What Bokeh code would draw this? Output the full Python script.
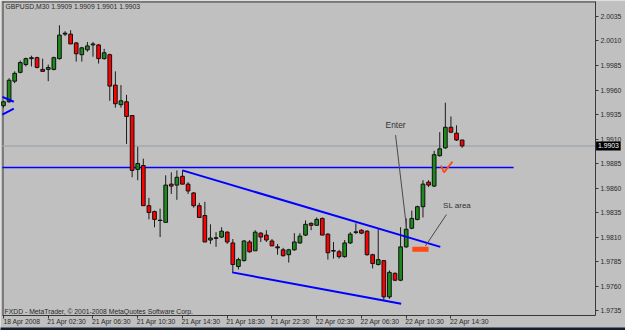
from bokeh.plotting import figure
from bokeh.models import (ColumnDataSource, FixedTicker, NumeralTickFormatter, Label,
                          Range1d, LinearAxis)
from bokeh.core.properties import value
from bokeh.embed import file_html
from bokeh.resources import INLINE

# ---------------- data ----------------
chart_title = "GBPUSD,M30  1.9909 1.9909 1.9901 1.9903"
copyright_text = "FXDD - MetaTrader, \u00a9 2001-2008 MetaQuotes Software Corp."

opens = [1.9944, 1.9948, 1.9969, 1.9978, 1.9986, 1.9992, 1.9993, 1.9981, 1.9981, 1.9981,
         1.9992, 2.0017, 2.0017, 2.0008, 1.9996, 2.0001, 2.0006, 2.0006, 1.9992, 1.9996,
         1.9965, 1.9945, 1.9948, 1.9934, 1.9879, 1.9883, 1.9842, 1.9836, 1.9827, 1.9825,
         1.9864, 1.9863, 1.9872, 1.9864, 1.9855, 1.9842, 1.9832, 1.9807, 1.9809, 1.9810,
         1.9815, 1.9804, 1.9780, 1.9786, 1.9805, 1.9796, 1.9814, 1.9812, 1.9806, 1.9800,
         1.9797, 1.9792, 1.9797, 1.9804, 1.9812, 1.9824, 1.9822, 1.9829, 1.9813, 1.9796,
         1.9795, 1.9790, 1.9804, 1.9815, 1.9817, 1.9816, 1.9792, 1.9782, 1.9786, 1.9749,
         1.9773, 1.9766, 1.9800, 1.9819, 1.9828, 1.9841, 1.9866, 1.9862, 1.9893, 1.9901,
         1.9922, 1.9916, 1.9909]
highs = [1.9949, 1.9972, 1.9979, 1.9990, 1.9993, 1.9995, 1.9994, 1.9992, 1.9986, 1.9994,
         2.0026, 2.0020, 2.0021, 2.0009, 2.0004, 2.0009, 2.0009, 2.0007, 2.0002, 1.9997,
         1.9979, 1.9965, 1.9955, 1.9934, 1.9902, 1.9890, 1.9850, 1.9837, 1.9839, 1.9873,
         1.9876, 1.9878, 1.9878, 1.9866, 1.9856, 1.9845, 1.9846, 1.9823, 1.9815, 1.9820,
         1.9816, 1.9808, 1.9789, 1.9807, 1.9807, 1.9817, 1.9815, 1.9817, 1.9808, 1.9803,
         1.9799, 1.9798, 1.9814, 1.9814, 1.9827, 1.9825, 1.9830, 1.9830, 1.9814, 1.9805,
         1.9797, 1.9807, 1.9815, 1.9824, 1.9818, 1.9817, 1.9793, 1.9818, 1.9786, 1.9776,
         1.9774, 1.9820, 1.9829, 1.9837, 1.9842, 1.9868, 1.9868, 1.9898, 1.9917, 1.9947,
         1.9933, 1.9924, 1.9909]
lows = [1.9942, 1.9947, 1.9967, 1.9977, 1.9984, 1.9984, 1.9982, 1.9979, 1.9969, 1.9980,
        1.9991, 2.0015, 2.0007, 1.9989, 1.9989, 1.9999, 1.9994, 1.9987, 1.9991, 1.9949,
        1.9942, 1.9942, 1.9905, 1.9871, 1.9868, 1.9842, 1.9828, 1.9820, 1.9810, 1.9825,
        1.9854, 1.9848, 1.9864, 1.9854, 1.9840, 1.9830, 1.9805, 1.9803, 1.9800, 1.9809,
        1.9803, 1.9774, 1.9777, 1.9785, 1.9794, 1.9796, 1.9805, 1.9805, 1.9801, 1.9792,
        1.9790, 1.9784, 1.9796, 1.9803, 1.9811, 1.9817, 1.9822, 1.9812, 1.9787, 1.9788,
        1.9788, 1.9789, 1.9803, 1.9813, 1.9813, 1.9791, 1.9778, 1.9781, 1.9745, 1.9747,
        1.9765, 1.9765, 1.9799, 1.9818, 1.9827, 1.9830, 1.9861, 1.9861, 1.9892, 1.9900,
        1.9916, 1.9908, 1.9901]
closes = [1.9948, 1.9970, 1.9977, 1.9988, 1.9992, 1.9993, 1.9983, 1.9979, 1.9983, 1.9993,
          2.0016, 2.0018, 2.0007, 1.9997, 2.0003, 2.0005, 2.0007, 1.9992, 1.9998, 1.9964,
          1.9946, 1.9949, 1.9933, 1.9878, 1.9885, 1.9842, 1.9835, 1.9828, 1.9827, 1.9863,
          1.9862, 1.9871, 1.9864, 1.9857, 1.9842, 1.9830, 1.9805, 1.9809, 1.9809, 1.9816,
          1.9805, 1.9782, 1.9787, 1.9806, 1.9795, 1.9815, 1.9810, 1.9807, 1.9801, 1.9799,
          1.9791, 1.9797, 1.9805, 1.9811, 1.9823, 1.9822, 1.9828, 1.9812, 1.9794, 1.9796,
          1.9790, 1.9804, 1.9813, 1.9815, 1.9814, 1.9792, 1.9783, 1.9787, 1.9749, 1.9774,
          1.9766, 1.9800, 1.9818, 1.9829, 1.9841, 1.9864, 1.9863, 1.9894, 1.9900, 1.9922,
          1.9917, 1.9909, 1.9903]

x_tick_pos = [0, 8, 16, 24, 32, 40, 48, 56, 64, 72, 80]
x_tick_labels = ["18 Apr 2008", "21 Apr 02:30", "21 Apr 06:30", "21 Apr 10:30",
                 "21 Apr 14:30", "21 Apr 18:30", "21 Apr 22:30", "22 Apr 02:30",
                 "22 Apr 06:30", "22 Apr 10:30", "22 Apr 14:30"]
y_ticks = [1.9735, 1.9760, 1.9785, 1.9810, 1.9835, 1.9860, 1.9885,
           1.9910, 1.9935, 1.9960, 1.9985, 2.0010, 2.0035]

bid_price = 1.9903
bid_label = "1.9903"
level_price = 1.9881
level_x = [-0.2, 91.2]
chan_top_x = [32.0, 78.1]
chan_top_y = [1.9878, 1.9800]
chan_bot_x = [40.9, 71.1]
chan_bot_y = [1.9774, 1.9742]
tri_up_x = [-0.2, 1.84]
tri_up_y = [1.9953, 1.9948]
tri_dn_x = [-0.2, 1.84]
tri_dn_y = [1.9935, 1.9941]
enter_line_x = [70.1, 72.05]
enter_line_y = [1.9914, 1.9820]
enter_text_xy = (70.1, 1.9924)
sl_line_x = [79.2, 75.45]
sl_line_y = [1.9833, 1.9801]
sl_text_xy = (81.1, 1.9842)
sl_box = dict(left=73.1, right=76.0, bottom=1.9795, top=1.9800)
check_x = [78.2, 78.76, 80.28]
check_y = [1.9883, 1.9876, 1.9887]

# ---------------- layout constants ----------------
BG = "#c0c0c0"
DARK = "#2a2a2a"
EDGE = "#383838"
FONT = "Liberation Sans"
LABEL_SHIFT = 3.3          # x-labels start at their tick (MetaTrader style)
CHART_L, CHART_R = -0.179, 105.85     # chart box in bar / price units
CHART_B, CHART_T = 1.97300, 2.00503

p = figure(width=625, height=330, output_backend="svg", toolbar_location=None,
           x_range=Range1d(-0.5364, 111.21), y_range=Range1d(1.97147, 2.00513),
           y_axis_location="right",
           min_border_left=0, min_border_top=0, min_border_right=0, min_border_bottom=0)
p.background_fill_color = BG
p.border_fill_color = BG
p.outline_line_color = None
p.xgrid.visible = False
p.ygrid.visible = False

# window strip at the very bottom
p.quad(left=[-1], right=[112], bottom=[1.9710], top=[1.97178],
       fill_color="#151c2c", line_color=None)

# chart box: top and left edges
p.line([CHART_L, CHART_R], [CHART_T - 0.00005, CHART_T - 0.00005], line_color=EDGE, line_width=1)
p.line([CHART_L + 0.09, CHART_L + 0.09], [CHART_B, CHART_T], line_color=EDGE, line_width=1)

yax = p.yaxis[0]
yax.fixed_location = CHART_R
yax.bounds = (CHART_B, CHART_T)
yax.ticker = FixedTicker(ticks=y_ticks)
yax.formatter = NumeralTickFormatter(format="0.0000")
yax.major_tick_out = 3
yax.major_tick_in = 0
yax.minor_tick_out = 0
yax.minor_tick_in = 0
yax.major_label_standoff = 2
yax.major_label_text_font = FONT
yax.major_label_text_font_size = "6.8px"
yax.major_label_text_color = DARK
yax.axis_line_color = EDGE
yax.major_tick_line_color = EDGE

# tick marks only
xax = p.xaxis[0]
xax.fixed_location = CHART_B
xax.bounds = (CHART_L, CHART_R)
xax.ticker = FixedTicker(ticks=x_tick_pos)
xax.major_label_overrides = {k: "" for k in x_tick_pos}
xax.major_tick_out = 3
xax.major_tick_in = 0
xax.minor_tick_out = 0
xax.minor_tick_in = 0
xax.major_label_standoff = 0
xax.major_label_text_font_size = "1px"
xax.axis_line_color = EDGE
xax.major_tick_line_color = EDGE

# labels, left-aligned at their ticks
lab_pos = [round(t + LABEL_SHIFT, 2) for t in x_tick_pos]
xlab = LinearAxis(ticker=FixedTicker(ticks=lab_pos), fixed_location=CHART_B,
                  major_label_overrides={k: v for k, v in zip(lab_pos, x_tick_labels)},
                  major_tick_out=0, major_tick_in=0, minor_tick_out=0, minor_tick_in=0,
                  axis_line_color=None, major_tick_line_color=None,
                  major_label_standoff=2, major_label_text_font=FONT,
                  major_label_text_font_size="6.8px", major_label_text_color=DARK)
p.add_layout(xlab, "below")

# horizontal lines
p.line([CHART_L, CHART_R], [bid_price, bid_price], line_color="#a2a8ae", line_width=1.5)
p.line(level_x, [level_price, level_price], line_color="#0000ff", line_width=1.6)

# candles
idx = list(range(len(opens)))
up = [c >= o for o, c in zip(opens, closes)]
colors = ["#1d8a1d" if u else "#ff0000" for u in up]
src = ColumnDataSource(dict(
    x=idx, high=highs, low=lows,
    top=[max(o, c) for o, c in zip(opens, closes)],
    bottom=[min(o, c) for o, c in zip(opens, closes)],
    color=colors))
p.segment(x0="x", y0="low", x1="x", y1="high", source=src, line_color="#1a1a1a", line_width=1)
p.vbar(x="x", width=0.66, top="top", bottom="bottom", fill_color="color",
       line_color="#101010", line_width=1, source=src)
doji_x = [i for i in idx if abs(opens[i] - closes[i]) < 0.00005]
doji_y = [opens[i] for i in doji_x]
p.segment(x0=[x - 0.4 for x in doji_x], x1=[x + 0.4 for x in doji_x],
          y0=doji_y, y1=doji_y, line_color="#101010", line_width=1)

# channel & triangle lines
p.line(chan_top_x, chan_top_y, line_color="#0000ff", line_width=2)
p.line(chan_bot_x, chan_bot_y, line_color="#0000ff", line_width=2)
p.line(tri_up_x, tri_up_y, line_color="#0000ff", line_width=2)
p.line(tri_dn_x, tri_dn_y, line_color="#0000ff", line_width=2)

# annotations
p.line(enter_line_x, enter_line_y, line_color="#4a4a4a", line_width=1)
p.line(sl_line_x, sl_line_y, line_color="#4a4a4a", line_width=1)
p.quad(left=[sl_box["left"]], right=[sl_box["right"]], bottom=[sl_box["bottom"]],
       top=[sl_box["top"]], fill_color="#ff4a14", line_color=None)
p.line(check_x, check_y, line_color="#ff4a14", line_width=1.8)

# current-price tag on the price scale
p.quad(left=[CHART_R + 0.1], right=[CHART_R + 4.5],
       bottom=[bid_price - 0.00046], top=[bid_price + 0.00046],
       fill_color="#000000", line_color=None)
p.text(x=[CHART_R + 0.45], y=[bid_price], text=[bid_label], text_color="#ffffff",
       text_font=value(FONT), text_font_size="6.8px",
       text_align="left", text_baseline="middle")

p.add_layout(Label(x=enter_text_xy[0], y=enter_text_xy[1], text="Enter",
                   text_align="center", text_baseline="middle",
                   text_font=FONT, text_font_size="8.4px", text_color="#333333"))
p.add_layout(Label(x=sl_text_xy[0], y=sl_text_xy[1], text="SL area",
                   text_align="center", text_baseline="middle",
                   text_font=FONT, text_font_size="8px", text_color="#333333"))
p.add_layout(Label(x=0.36, y=2.00452, text=chart_title,
                   text_align="left", text_baseline="middle",
                   text_font=FONT, text_font_size="6.8px", text_color=DARK))
p.add_layout(Label(x=0.2, y=1.97345, text=copyright_text,
                   text_align="left", text_baseline="middle",
                   text_font=FONT, text_font_size="6.8px", text_color=DARK))

open("out.html", "w").write(file_html(p, INLINE))
